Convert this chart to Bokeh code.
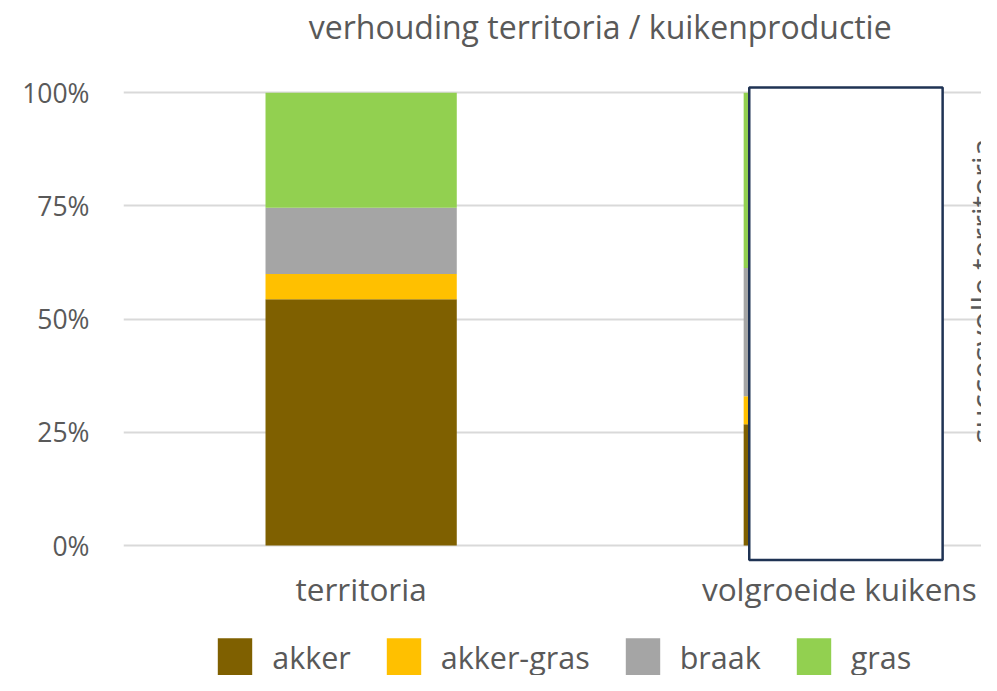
from math import pi
from bokeh.plotting import figure
from bokeh.models import (ColumnDataSource, Range1d, FixedTicker, NumeralTickFormatter,
                          Legend, LegendItem, BoxAnnotation, Label)
from bokeh.embed import file_html
from bokeh.resources import INLINE

# ---- data ----
categories = ["territoria", "volgroeide kuikens"]
series = ["akker", "akker-gras", "braak", "gras"]
akker = [0.544, 0.268]
akker_gras = [0.056, 0.062]
braak = [0.146, 0.283]
gras = [0.254, 0.387]
colors = ["#7f6000", "#ffc000", "#a5a5a5", "#92d050"]
y_ticks = [0, 0.25, 0.5, 0.75, 1.0]
title_text = "verhouding territoria / kuikenproductie"
side_note = "succesvolle territoria"

FONT = "Open Sans"
TXT = "#595959"

xpos = [i + 0.5 for i in range(len(categories))]
source = ColumnDataSource(dict(x=xpos, akker=akker, akker_gras=akker_gras,
                               braak=braak, gras=gras))

W, H = 981, 675
p = figure(width=W, height=H, output_backend="svg", toolbar_location=None,
           x_range=Range1d(0.003, 1.7974), y_range=Range1d(-0.2869, 1.2038),
           min_border_left=123, min_border_right=0, min_border_top=0,
           min_border_bottom=0)
p.outline_line_color = None
p.background_fill_color = "white"

renderers = p.vbar_stack(["akker", "akker_gras", "braak", "gras"], x="x", width=0.4,
                         fill_color=colors, line_color=None, source=source)

# axes
p.xaxis.ticker = FixedTicker(ticks=xpos)
p.xaxis.major_label_overrides = {x: c for x, c in zip(xpos, categories)}
p.xaxis.fixed_location = 0
p.yaxis.ticker = FixedTicker(ticks=y_ticks)
p.yaxis.formatter = NumeralTickFormatter(format="0%")
for ax in (p.xaxis, p.yaxis):
    ax.axis_line_color = None
    ax.major_tick_line_color = None
    ax.minor_tick_line_color = None
    ax.major_tick_out = 0
    ax.minor_tick_out = 0
    ax.major_label_text_font = FONT
    ax.major_label_text_color = TXT
p.xaxis.major_label_text_font_size = "31.5px"
p.xaxis.major_label_standoff = 21
p.yaxis.major_label_text_font_size = "26.5px"
p.yaxis.major_label_standoff = 34

p.xgrid.grid_line_color = None
p.ygrid.grid_line_color = "#d9d9d9"
p.ygrid.grid_line_width = 2

# title (drawn inside the upper, empty part of the plotting area)
title = Label(x=1.0, y=1.1462, text=title_text, text_align="center",
              text_baseline="alphabetic", text_font=FONT, text_font_size="32px",
              text_color=TXT)
p.add_layout(title)

# overlay box on the second bar
box = BoxAnnotation(left=xpos[1] - 0.1883, right=xpos[1] + 0.2161,
                    bottom=-0.0316, top=1.0119,
                    fill_color="white", fill_alpha=1.0,
                    line_color="#1f3354", line_alpha=1.0, line_width=2.5)
p.add_layout(box)

note = Label(x=1.753, y=0.562, text=side_note, angle=pi / 2,
             text_align="center", text_baseline="top",
             text_font=FONT, text_font_size="31.5px", text_color=TXT)
p.add_layout(note)

items = [LegendItem(label=s, renderers=[r]) for s, r in zip(series, renderers)]
legend = Legend(items=items, orientation="horizontal", location=(90.2, -6.1),
                glyph_width=43, glyph_height=48, label_standoff=16, spacing=31,
                padding=0, margin=0, border_line_color=None,
                background_fill_alpha=0, label_text_font=FONT,
                label_text_font_size="30.5px", label_text_color=TXT)
p.add_layout(legend, "center")

open("out.html", "w").write(file_html(p, INLINE))
